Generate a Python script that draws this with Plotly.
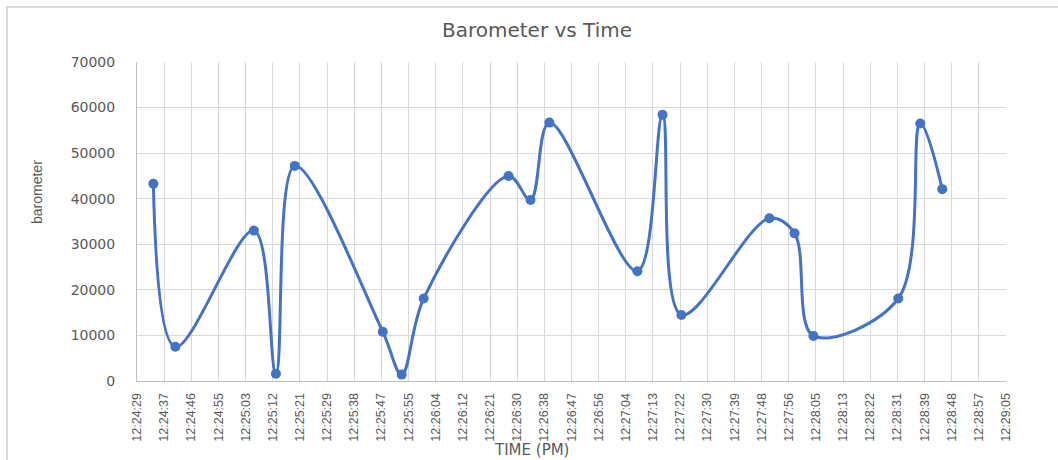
import plotly.graph_objects as go

# ---- data ----
times = ["12:24:34", "12:24:41", "12:25:06", "12:25:13", "12:25:19", "12:25:47",
         "12:25:53", "12:26:00", "12:26:27", "12:26:34", "12:26:40", "12:27:08",
         "12:27:16", "12:27:22", "12:27:50", "12:27:58", "12:28:04", "12:28:31",
         "12:28:38", "12:28:45"]
barometer = [43300, 7500, 33000, 1600, 47200, 10800, 1400, 18100, 45000, 39700,
             56700, 24100, 58400, 14500, 35700, 32400, 9900, 18100, 56500, 42100]
tick_labels = ["12:24:29", "12:24:37", "12:24:46", "12:24:55", "12:25:03", "12:25:12",
               "12:25:21", "12:25:29", "12:25:38", "12:25:47", "12:25:55", "12:26:04",
               "12:26:12", "12:26:21", "12:26:30", "12:26:38", "12:26:47", "12:26:56",
               "12:27:04", "12:27:13", "12:27:22", "12:27:30", "12:27:39", "12:27:48",
               "12:27:56", "12:28:05", "12:28:13", "12:28:22", "12:28:31", "12:28:39",
               "12:28:48", "12:28:57", "12:29:05"]
y_ticks = [0, 10000, 20000, 30000, 40000, 50000, 60000, 70000]


def to_sec(s):
    h, m, sec = (float(p) for p in s.split(":"))
    return h * 3600 + m * 60 + sec


x_sec = [to_sec(t) for t in times]
# Excel axis: day fraction 0.5170 .. 0.5202, major unit 0.0001 day
tick_vals = [0.5170 * 86400 + k * 8.64 for k in range(len(tick_labels))]

W, H = 1058, 460
L, R, T, B = 137, 52, 62, 79
pw, ph = W - L - R, H - T - B


def px_x(x):
    return (x - L) / pw


def px_y(y):
    return (H - B - y) / ph


GRAY = "#595959"
NARROW = "Liberation Sans Narrow, Arial Narrow, Liberation Sans, sans-serif"
WIDE = "DejaVu Sans, Verdana, sans-serif"

fig = go.Figure()
fig.add_trace(go.Scatter(
    x=x_sec, y=barometer, mode="lines+markers",
    line=dict(color="#4472C4", width=3, shape="spline", smoothing=1),
    marker=dict(color="#4472C4", size=10, symbol="circle"),
    showlegend=False, cliponaxis=False,
))

fig.update_layout(
    width=W, height=H,
    margin=dict(l=L, r=R, t=T, b=B, autoexpand=False),
    paper_bgcolor="white", plot_bgcolor="white",
    title=dict(text="Barometer vs Time", x=537 / W, y=1 - 30 / H,
               xanchor="center", yanchor="middle",
               font=dict(family=WIDE, size=20, color=GRAY)),
    xaxis=dict(range=[tick_vals[0], tick_vals[-1]], tickmode="array",
               tickvals=tick_vals, ticktext=tick_labels, tickangle=-90,
               tickfont=dict(family=NARROW, size=12.5, color=GRAY),
               showgrid=True, gridcolor="#d9d9d9", gridwidth=1,
               showline=True, linecolor="#bfbfbf", linewidth=1,
               zeroline=False, ticks="", ticklabelstandoff=6, automargin=False),
    yaxis=dict(range=[0, 70000], tickmode="array", tickvals=y_ticks,
               ticktext=[str(v) for v in y_ticks],
               tickfont=dict(family=WIDE, size=14, color=GRAY),
               showgrid=True, gridcolor="#d9d9d9", gridwidth=1,
               showline=True, linecolor="#bfbfbf", linewidth=1,
               zeroline=False, ticks="", ticklabelstandoff=18, automargin=False),
    annotations=[
        dict(text="barometer", x=px_x(37), y=px_y(192), xref="paper", yref="paper",
             textangle=-90, showarrow=False, xanchor="center", yanchor="middle",
             font=dict(family=NARROW, size=14, color=GRAY)),
        dict(text="TIME (PM)", x=px_x(531), y=px_y(450), xref="paper", yref="paper",
             showarrow=False, xanchor="center", yanchor="middle",
             font=dict(family=WIDE, size=15, color=GRAY)),
    ],
    shapes=[
        dict(type="rect", xref="paper", yref="paper",
             x0=px_x(7), y0=px_y(475), x1=px_x(1075), y1=px_y(7),
             line=dict(color="#d9d9d9", width=2), fillcolor="rgba(0,0,0,0)",
             layer="below"),
    ],
)

fig.write_html("out.html", config={"displayModeBar": False})

# remove the browser's default page margin so the figure sits at (0, 0)
with open("out.html", encoding="utf-8") as f:
    html = f.read()
html = html.replace("<head>", "<head><style>html,body{margin:0;padding:0;overflow:hidden;}</style>", 1)
with open("out.html", "w", encoding="utf-8") as f:
    f.write(html)
